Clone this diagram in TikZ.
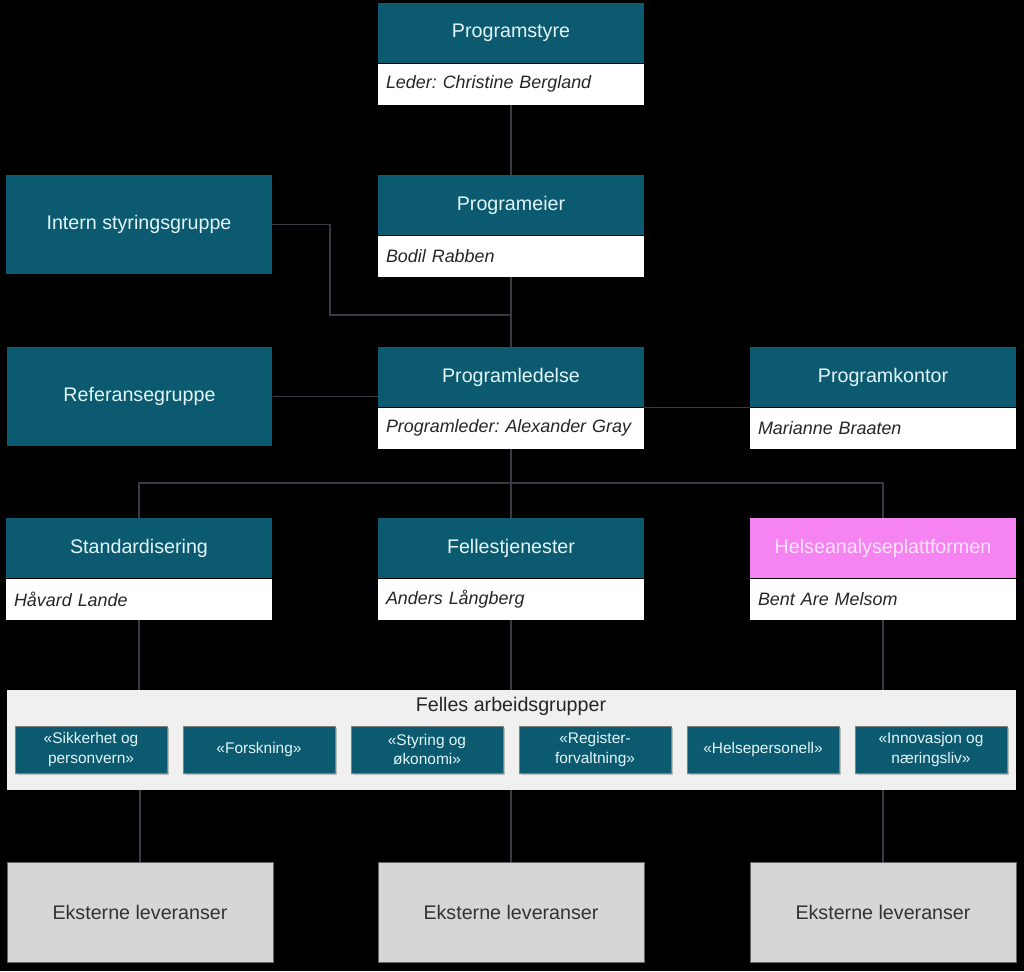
\documentclass[tikz,border=0pt]{standalone}
\usepackage{fontspec}
\setmainfont{Liberation Sans}
\usepackage{xcolor}
\usetikzlibrary{positioning, shadows}
\frenchspacing

\definecolor{petrol}{HTML}{0B5A70}
\definecolor{headtxt}{HTML}{E2F5F8}
\definecolor{orchid}{HTML}{F584F2}
\definecolor{orchidtxt}{HTML}{FBE4FA}
\definecolor{panel}{HTML}{F0F0F0}
\definecolor{extgray}{HTML}{D6D6D6}
\definecolor{wire}{HTML}{3A3A42}

\tikzset{
  head/.style={fill=petrol, text=headtxt, minimum width=5.32cm, minimum height=1.2cm,
    inner sep=0pt, font=\fontsize{11.2}{13}\selectfont},
  who/.style={fill=white, text=black!85, minimum height=0.82cm, text width=5.0cm,
    inner xsep=0.16cm, inner ysep=0pt, align=left, font=\fontsize{10.2}{12}\selectfont\itshape},
  bigbox/.style={fill=petrol, text=headtxt, minimum width=5.32cm, minimum height=1.98cm,
    inner sep=0pt, font=\fontsize{11.2}{13}\selectfont},
  group/.style={fill=petrol, text=headtxt, minimum width=3.04cm, minimum height=0.94cm,
    inner sep=0pt, align=center, draw=black!50, line width=0.3pt,
    drop shadow={shadow xshift=1.2pt, shadow yshift=-1.2pt, opacity=0.45},
    font=\fontsize{8.8}{11}\selectfont},
  extbox/.style={fill=extgray, text=black!80, minimum width=5.32cm, minimum height=2cm,
    inner sep=0pt, draw=black!60, line width=0.3pt, font=\fontsize{11.2}{13}\selectfont},
  link/.style={draw=wire, line width=0.9pt}
}

\begin{document}
\begin{tikzpicture}[x=0.02cm, y=-0.02cm]
  % background
  \fill[black] (0,0) rectangle (1024,971);
  \useasboundingbox (0,0) rectangle (1024,971);

  % top chain
  \node[head] (styre) at (511,33) {Programstyre};
  \node[who, below=0pt of styre] (styre-n) {Leder: Christine Bergland};
  \node[head] (eier) at (511,205) {Programeier};
  \node[who, below=0pt of eier] (eier-n) {Bodil Rabben};
  \node[head] (ledelse) at (511,377) {Programledelse};
  \node[who, below=0pt of ledelse] (ledelse-n) {Programleder: Alexander Gray};
  \node[head] (kontor) at (883,377) {Programkontor};
  \node[who, below=0pt of kontor] (kontor-n) {Marianne Braaten};

  % side groups
  \node[bigbox] (intern) at (139,224.5) {Intern styringsgruppe};
  \node[bigbox] (referanse) at (139.5,396.5) {Referansegruppe};

  % delivery units
  \node[head] (std) at (139,548) {Standardisering};
  \node[who, below=0pt of std] (std-n) {Håvard Lande};
  \node[head] (felles) at (511,548) {Fellestjenester};
  \node[who, below=0pt of felles] (felles-n) {Anders Långberg};
  \node[head, fill=orchid, text=orchidtxt] (helse) at (883,548) {Helseanalyseplattformen};
  \node[who, below=0pt of helse] (helse-n) {Bent Are Melsom};

  % working groups
  \node[fill=panel, minimum width=20.18cm, minimum height=2cm, inner sep=0pt] (arb) at (511.5,740) {};
  \node[font=\fontsize{11.2}{13}\selectfont, text=black!85] (arb-t) at (511,706) {Felles arbeidsgrupper};
  \node[group] (g1) at (91,749.5) {«Sikkerhet og\\personvern»};
  \node[group] (g2) at (259,749.5) {«Forskning»};
  \node[group] (g3) at (427,749.5) {«Styring og\\økonomi»};
  \node[group] (g4) at (595,749.5) {«Register-\\forvaltning»};
  \node[group] (g5) at (763,749.5) {«Helsepersonell»};
  \node[group] (g6) at (931,749.5) {«Innovasjon og\\næringsliv»};

  % external deliveries
  \node[extbox] (ext-std) at (140,912) {Eksterne leveranser};
  \node[extbox] (ext-felles) at (511,912) {Eksterne leveranser};
  \node[extbox] (ext-helse) at (883,912) {Eksterne leveranser};

  % connectors
  \coordinate (knee) at (330,315);
  \coordinate (split) at (511,483);
  \draw[link] (styre-n.south) -- (eier.north);
  \draw[link] (eier-n.south) -- (ledelse.north);
  \draw[link] (intern.east) -| (knee) -- (knee -| ledelse.north);
  \draw[link] (referanse.east) -- (referanse.east -| ledelse.west);
  \draw[link] (ledelse-n.north east) -- (kontor-n.north west);
  \draw[link] (ledelse-n.south) -- (split) -- (felles.north);
  \draw[link] (std.north) |- (split) -| (helse.north);
  \foreach \u in {std, felles, helse} {
    \draw[link] (\u-n.south) -- (\u-n.south |- arb.north);
    \draw[link] (ext-\u.north |- arb.south) -- (ext-\u.north);
  }
\end{tikzpicture}
\end{document}
